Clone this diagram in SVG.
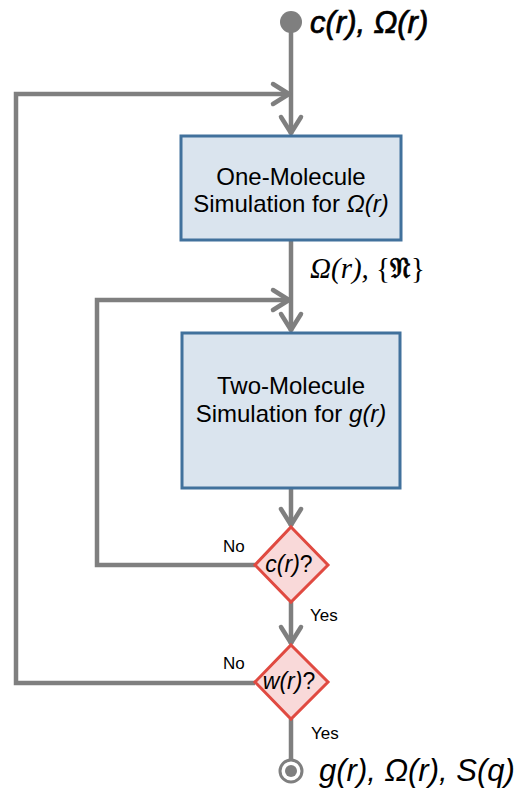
<svg xmlns="http://www.w3.org/2000/svg" width="525" height="788" viewBox="0 0 525 788">
  <style>
    .flow { fill: none; stroke: #7f7f7f; stroke-width: 4.5; }
    .box { fill: #dae4ee; stroke: #41719c; stroke-width: 3; }
    .dec { fill: #f9d9d9; stroke: #e04a41; stroke-width: 3; }
    .txt { font-family: "Liberation Sans", Arial, sans-serif; fill: #000; }
    .boxtxt { font-size: 24px; text-anchor: middle; }
    .dectxt { font-size: 23px; text-anchor: middle; }
    .lbl { font-size: 17px; }
    .io { font-size: 31px; font-style: italic; }
    .it { font-style: italic; }
  </style>
  <defs>
    <marker id="arrow" markerUnits="userSpaceOnUse" markerWidth="40" markerHeight="40" viewBox="-25 -20 40 40" refX="0" refY="0" orient="auto" overflow="visible">
      <path d="M-17,-10 L-1,0 L-17,10" fill="none" stroke="#7f7f7f" stroke-width="4.5" stroke-linecap="round" stroke-linejoin="round"/>
    </marker>
  </defs>

  <!-- connectors -->
  <g id="connectors" class="flow">
    <line x1="291" y1="30" x2="291" y2="134" marker-end="url(#arrow)"/>
    <polyline points="255,683 16,683 16,94 290,94" marker-end="url(#arrow)"/>
    <line x1="291" y1="240" x2="291" y2="331" marker-end="url(#arrow)"/>
    <polyline points="255,565 97,565 97,300 290,300" marker-end="url(#arrow)"/>
    <line x1="291" y1="488" x2="291" y2="526" marker-end="url(#arrow)"/>
    <line x1="291" y1="602" x2="291" y2="644" marker-end="url(#arrow)"/>
    <line x1="291" y1="719" x2="291" y2="760"/>
  </g>

  <!-- start terminal -->
  <g id="start">
    <circle cx="291" cy="22" r="11" fill="#7f7f7f"/>
    <text class="txt io" x="310" y="33" font-size="30" stroke="#000" stroke-width="0.7">c(r), Ω(r)</text>
  </g>

  <!-- one-molecule simulation -->
  <g id="one-molecule">
    <rect class="box" x="181" y="136" width="220" height="104"/>
    <text class="txt boxtxt" x="291" y="185">One-Molecule</text>
    <text class="txt boxtxt" x="291" y="212">Simulation for <tspan class="it">Ω(r)</tspan></text>
  </g>

  <!-- intermediate result -->
  <g id="omega-label">
    <text x="310" y="278" font-size="29" font-family="'Liberation Serif', 'DejaVu Serif', serif"><tspan font-style="italic">Ω(r),</tspan> {<tspan font-family="'DejaVu Serif', 'DejaVu Sans', serif" stroke="#000" stroke-width="0.8">𝔑</tspan>}</text>
  </g>

  <!-- two-molecule simulation -->
  <g id="two-molecule">
    <rect class="box" x="182" y="333" width="218" height="155"/>
    <text class="txt boxtxt" x="291" y="394">Two-Molecule</text>
    <text class="txt boxtxt" x="291" y="422">Simulation for <tspan class="it">g(r)</tspan></text>
  </g>

  <!-- convergence check c(r) -->
  <g id="check-c">
    <polygon class="dec" points="291,527 328,565 291,602 255,565"/>
    <text class="txt dectxt" x="289" y="572"><tspan class="it">c(r)</tspan>?</text>
    <text class="txt lbl" x="223" y="552">No</text>
    <text class="txt lbl" x="310" y="621">Yes</text>
  </g>

  <!-- convergence check w(r) -->
  <g id="check-w">
    <polygon class="dec" points="291,645 328,682 291,719 255,682"/>
    <text class="txt dectxt" x="289" y="689"><tspan class="it">w(r)</tspan>?</text>
    <text class="txt lbl" x="223" y="669">No</text>
    <text class="txt lbl" x="311" y="739">Yes</text>
  </g>

  <!-- end terminal -->
  <g id="end">
    <circle cx="291" cy="771" r="11" fill="#fff" stroke="#7f7f7f" stroke-width="3"/>
    <circle cx="291" cy="771" r="6" fill="#7f7f7f"/>
    <text class="txt io" x="319" y="781">g(r), Ω(r), S(q)</text>
  </g>
</svg>
